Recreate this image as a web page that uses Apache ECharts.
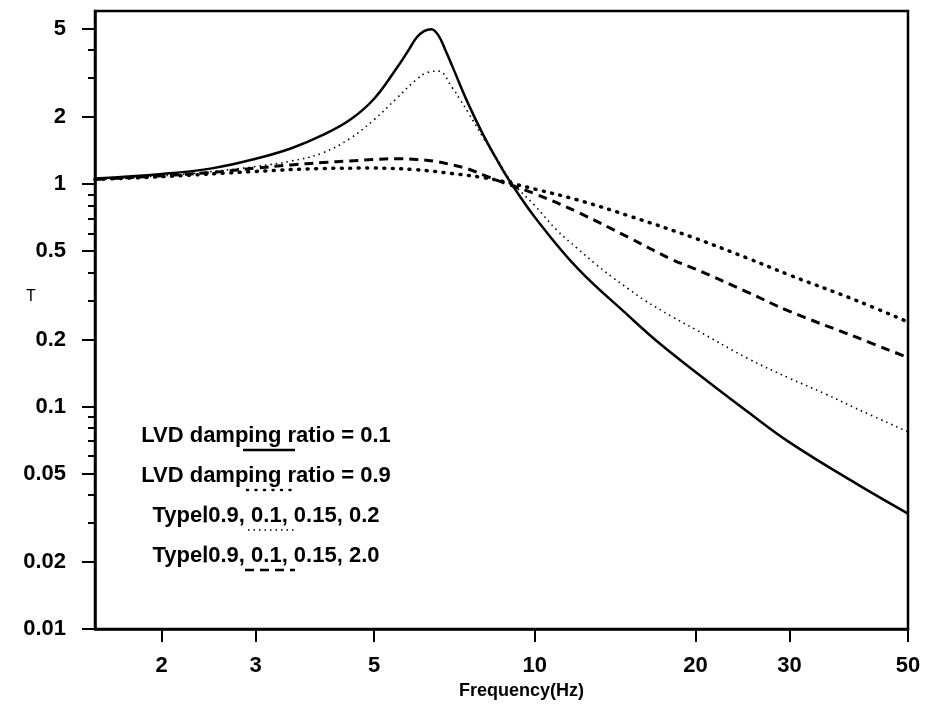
<!DOCTYPE html>
<html>
<head>
<meta charset="utf-8">
<script src="https://cdn.jsdelivr.net/npm/echarts@6/dist/echarts.min.js"></script>
<style>
  html, body { margin: 0; background: #fff; }
  #chart { width: 927px; height: 711px; }
</style>
</head>
<body>
<div id="chart"></div>
<script>
// tick values
const xTicks = [2, 3, 5, 10, 20, 30, 50];
const yMajor = [0.01, 0.02, 0.05, 0.1, 0.2, 0.5, 1, 2, 5];
const yMinor = [0.03, 0.04, 0.06, 0.07, 0.08, 0.09, 0.3, 0.4, 0.6, 0.7, 0.8, 0.9, 3, 4];

// LVD damping ratio = 0.1 (solid)
const freqLvd01 = [1.5, 2, 2.5, 3, 3.5, 4, 4.5, 5, 5.5, 5.8, 6.0, 6.2, 6.4, 6.6, 6.8, 7.0, 7.5, 8, 8.5, 9, 10, 12, 15, 17, 20, 25, 30, 40, 50];
const tLvd01 = [1.06, 1.11, 1.18, 1.3, 1.45, 1.66, 1.94, 2.42, 3.3, 4.0, 4.55, 4.87, 4.97, 4.65, 4.0, 3.4, 2.3, 1.67, 1.28, 1.02, 0.71, 0.42, 0.255, 0.195, 0.143, 0.095, 0.069, 0.045, 0.033];

// LVD damping ratio = 0.9 (heavy dots)
const freqLvd09 = [1.5, 2, 3, 4, 5, 6, 7, 8, 9, 10, 12, 15, 20, 25, 30, 40, 50];
const tLvd09 = [1.05, 1.08, 1.14, 1.175, 1.18, 1.16, 1.115, 1.07, 1.01, 0.95, 0.85, 0.72, 0.57, 0.465, 0.39, 0.30, 0.24];

// Type I 0.9, 0.1, 0.15, 0.2 (fine dots)
const freqType02 = [1.5, 2, 2.5, 3, 3.5, 4, 4.5, 5, 5.5, 6, 6.3, 6.6, 7, 7.25, 7.5, 8, 8.5, 9, 10, 11, 12, 13, 14, 15, 16, 18, 20, 25, 30, 35, 40, 50];
const tType02 = [1.05, 1.09, 1.14, 1.2, 1.27, 1.38, 1.6, 1.95, 2.42, 2.95, 3.18, 3.22, 2.72, 2.39, 2.1, 1.62, 1.3, 1.04, 0.8, 0.62, 0.515, 0.437, 0.38, 0.337, 0.302, 0.255, 0.222, 0.165, 0.134, 0.114, 0.098, 0.077];

// Type I 0.9, 0.1, 0.15, 2.0 (dashes)
const freqType20 = [1.5, 2, 2.5, 3, 3.5, 4, 4.5, 5, 5.5, 6, 6.5, 7, 7.5, 8, 8.5, 9, 10, 12, 15, 18, 20, 25, 30, 40, 50];
const tType20 = [1.05, 1.09, 1.13, 1.18, 1.22, 1.25, 1.27, 1.29, 1.30, 1.29, 1.265, 1.22, 1.17, 1.10, 1.04, 0.99, 0.905, 0.75, 0.575, 0.46, 0.415, 0.327, 0.268, 0.205, 0.166];

const legendNames = [
  "LVD damping ratio = 0.1",
  "LVD damping ratio = 0.9",
  "Type\u21600.9, 0.1, 0.15, 0.2",
  "Type\u21600.9, 0.1, 0.15, 2.0"
];

const FONT = '"Liberation Sans", Arial, Helvetica, sans-serif';

const pairs = (xs, ys) => xs.map((x, i) => [x, ys[i]]);

// line looks for each curve
const styles = [
  { width: 2.5, type: "solid", cap: "butt" },
  { width: 3.5, type: [1, 7.5], cap: "round" },
  { width: 1.6, type: [1.5, 4], cap: "butt" },
  { width: 3, type: [9, 6], cap: "butt" }
];
const curves = [
  pairs(freqLvd01, tLvd01),
  pairs(freqLvd09, tLvd09),
  pairs(freqType02, tType02),
  pairs(freqType20, tType20)
];

const chart = echarts.init(document.getElementById("chart"));

// legend: text with the line sample under it, plus the y axis name
const legendY = [436, 476, 516, 556];
const sampleX = [[243, 295], [247, 292], [248, 294], [245, 295]];
const graphics = [{
  type: "text",
  style: {
    text: "T", x: 31, y: 297, font: "16px " + FONT,
    align: "center", verticalAlign: "middle",
    textAlign: "center", textVerticalAlign: "middle", fill: "#000"
  }
}];
legendNames.forEach((name, i) => {
  graphics.push({
    type: "text",
    style: {
      text: name, x: 266, y: legendY[i],
      font: "bold 22px " + FONT,
      align: "center", verticalAlign: "middle",
      textAlign: "center", textVerticalAlign: "middle",
      fill: "#000"
    }
  });
  const s = styles[i];
  graphics.push({
    type: "line",
    shape: { x1: sampleX[i][0], y1: legendY[i] + 14, x2: sampleX[i][1], y2: legendY[i] + 14 },
    style: {
      stroke: "#000",
      lineWidth: Math.min(s.width, 2.5),
      lineDash: s.type === "solid" ? null : s.type,
      lineCap: s.cap
    }
  });
});

const option = {
  backgroundColor: "#fff",
  animation: false,
  grid: {
    left: 95, right: 19, top: 11, bottom: 82,
    show: true, borderColor: "#000", borderWidth: 2.5, backgroundColor: "transparent"
  },
  xAxis: {
    type: "log",
    min: 1.5, max: 50,
    name: "Frequency(Hz)",
    nameLocation: "middle",
    nameGap: 50,
    nameTextStyle: { fontFamily: FONT, fontSize: 18, fontWeight: "bold", color: "#000", padding: [0, 0, 0, 40] },
    axisLine: { show: true, lineStyle: { color: "#000", width: 2.5 } },
    axisTick: { show: true, inside: false, length: 13, customValues: xTicks, lineStyle: { color: "#000", width: 2 } },
    axisLabel: {
      customValues: xTicks, margin: 26,
      fontFamily: FONT, fontSize: 22, fontWeight: "bold", color: "#000"
    },
    splitLine: { show: false },
    minorTick: { show: false }
  },
  yAxis: [
    {
      type: "log",
      min: 0.01, max: 6,
      position: "left",
      axisLine: { show: true, lineStyle: { color: "#000", width: 2.5 } },
      axisTick: { show: true, inside: false, length: 13, customValues: yMajor, lineStyle: { color: "#000", width: 2 } },
      axisLabel: {
        customValues: yMajor, margin: 29,
        fontFamily: FONT, fontSize: 22, fontWeight: "bold", color: "#000"
      },
      splitLine: { show: false }
    },
    {
      type: "log",
      min: 0.01, max: 6,
      position: "left",
      offset: 0,
      axisLine: { show: false },
      axisTick: { show: true, inside: false, length: 7, customValues: yMinor, lineStyle: { color: "#000", width: 2 } },
      axisLabel: { show: false },
      splitLine: { show: false }
    }
  ],
  graphic: graphics,
  series: curves.map((data, i) => ({
    name: legendNames[i],
    type: "line",
    yAxisIndex: 0,
    data: data,
    smooth: 0.4,
    symbol: "none",
    clip: true,
    lineStyle: { color: "#000", width: styles[i].width, type: styles[i].type, cap: styles[i].cap }
  }))
};

chart.setOption(option);
</script>
</body>
</html>
